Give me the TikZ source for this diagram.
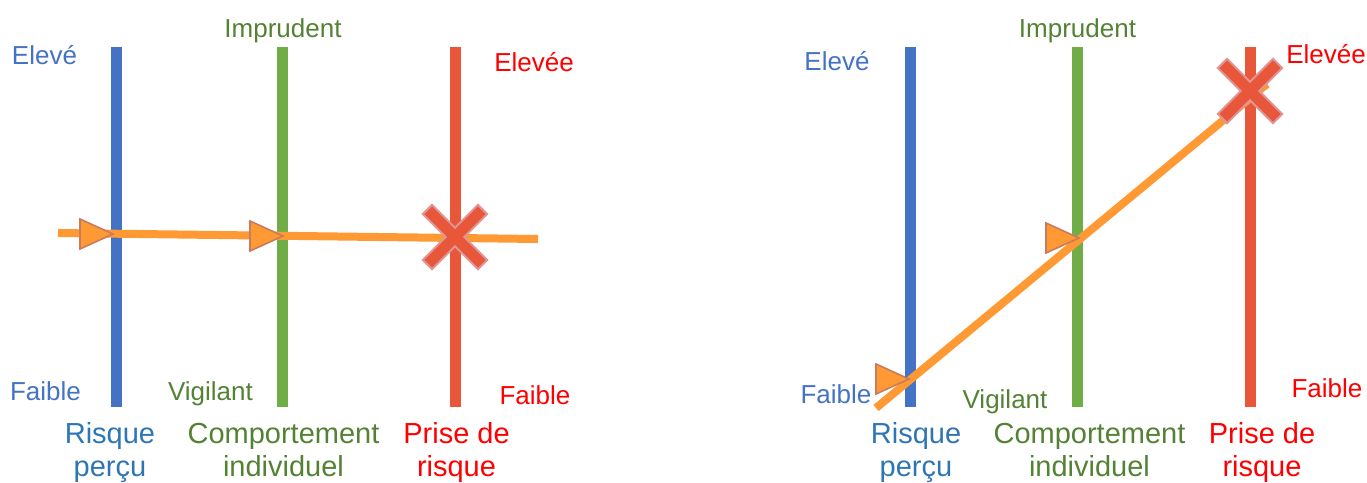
\documentclass[tikz,border=0pt]{standalone}
\usepackage{fontspec}
\setmainfont{Liberation Sans}
\definecolor{barblue}{HTML}{4472C4}
\definecolor{bargreen}{HTML}{70AD47}
\definecolor{barred}{HTML}{E9573B}
\definecolor{txtblue}{HTML}{4472C4}
\definecolor{txtblue2}{HTML}{2E75B6}
\definecolor{txtgreen}{HTML}{548235}
\definecolor{txtred}{HTML}{FF0000}
\definecolor{orangeline}{HTML}{FF9933}
\definecolor{triborder}{HTML}{C97B5E}
\definecolor{xborder}{HTML}{DE9696}
\begin{document}
\begin{tikzpicture}[x=1pt,y=-1pt,
  bar/.style={line width=11pt},
  path/.style={draw=orangeline,line width=8pt},
  lbl/.style={anchor=base,inner sep=0pt,font=\fontsize{26}{31}\selectfont},
  title/.style={anchor=base,inner sep=0pt,font=\fontsize{29}{33}\selectfont,align=center},
  tri/.pic={\draw[fill=orangeline,draw=triborder,line width=1.6pt,line join=miter]
     (0,0) -- (-33,-15) -- (-33,15) -- cycle;},
  cross/.pic={\begin{scope}[rotate=45]
     \draw[fill=barred,draw=xborder,line width=2pt]
     (-6.5,-39) -- (6.5,-39) -- (6.5,-6.5) -- (39,-6.5) -- (39,6.5) -- (6.5,6.5) -- (6.5,39)
     -- (-6.5,39) -- (-6.5,6.5) -- (-39,6.5) -- (-39,-6.5) -- (-6.5,-6.5) -- cycle;
     \end{scope}}
]
\useasboundingbox (0,0) rectangle (1367,482);

% ---------- left diagram ----------
\coordinate (LbT) at (116.5,47);  \coordinate (LbB) at (116.5,407);
\coordinate (LgT) at (282.5,47);  \coordinate (LgB) at (282.5,407);
\coordinate (LrT) at (455.5,47);  \coordinate (LrB) at (455.5,407);
\draw[bar,barblue]  (LbT) -- (LbB);
\draw[bar,bargreen] (LgT) -- (LgB);
\draw[bar,barred]   (LrT) -- (LrB);

\coordinate (LpS) at (58,233);
\coordinate (LpE) at (538,239);
\draw[path] (LpS) -- (LpE);
\pic at (113,234) {tri};
\pic at (283,236) {tri};
\pic at (455,237) {cross};

\node[lbl,text=txtblue]  (lElevB) at (44.5,64) {Elevé};
\node[lbl,text=txtgreen] (lImpr)  at (283,37) {Imprudent};
\node[lbl,text=txtred]   (lElevR) at (534,71) {Elevée};
\node[lbl,text=txtblue]  (lFaibB) at (45.5,400) {Faible};
\node[lbl,text=txtgreen] (lVigi)  at (210.5,400) {Vigilant};
\node[lbl,text=txtred]   (lFaibR) at (535,404) {Faible};
\node[title,text=txtblue2] (lRisq)  at (110,476) {Risque\\perçu};
\node[title,text=txtgreen] (lComp)  at (283.5,476) {Comportement\\individuel};
\node[title,text=txtred]   (lPris)  at (456.5,476) {Prise de\\risque};

% ---------- right diagram ----------
\coordinate (RbT) at (910.5,47);  \coordinate (RbB) at (910.5,407);
\coordinate (RgT) at (1077,47);   \coordinate (RgB) at (1077,407);
\coordinate (RrT) at (1250,47);   \coordinate (RrB) at (1250,407);
\draw[bar,barblue]  (RbT) -- (RbB);
\draw[bar,bargreen] (RgT) -- (RgB);
\draw[bar,barred]   (RrT) -- (RrB);

\coordinate (RpS) at (876,408);
\coordinate (RpE) at (1267,84);
\draw[path] (RpS) -- (RpE);
\pic at (909,379) {tri};
\pic at (1079,238) {tri};
\pic at (1250,91) {cross};

\node[lbl,text=txtblue]  (rElevB) at (837,70) {Elevé};
\node[lbl,text=txtgreen] (rImpr)  at (1077.5,37) {Imprudent};
\node[lbl,text=txtred]   (rElevR) at (1326,63) {Elevée};
\node[lbl,text=txtblue]  (rFaibB) at (836,403) {Faible};
\node[lbl,text=txtgreen] (rVigi)  at (1005,408) {Vigilant};
\node[lbl,text=txtred]   (rFaibR) at (1327,397) {Faible};
\node[title,text=txtblue2] (rRisq)  at (916,476) {Risque\\perçu};
\node[title,text=txtgreen] (rComp)  at (1089.5,476) {Comportement\\individuel};
\node[title,text=txtred]   (rPris)  at (1262,476) {Prise de\\risque};
\end{tikzpicture}
\end{document}
